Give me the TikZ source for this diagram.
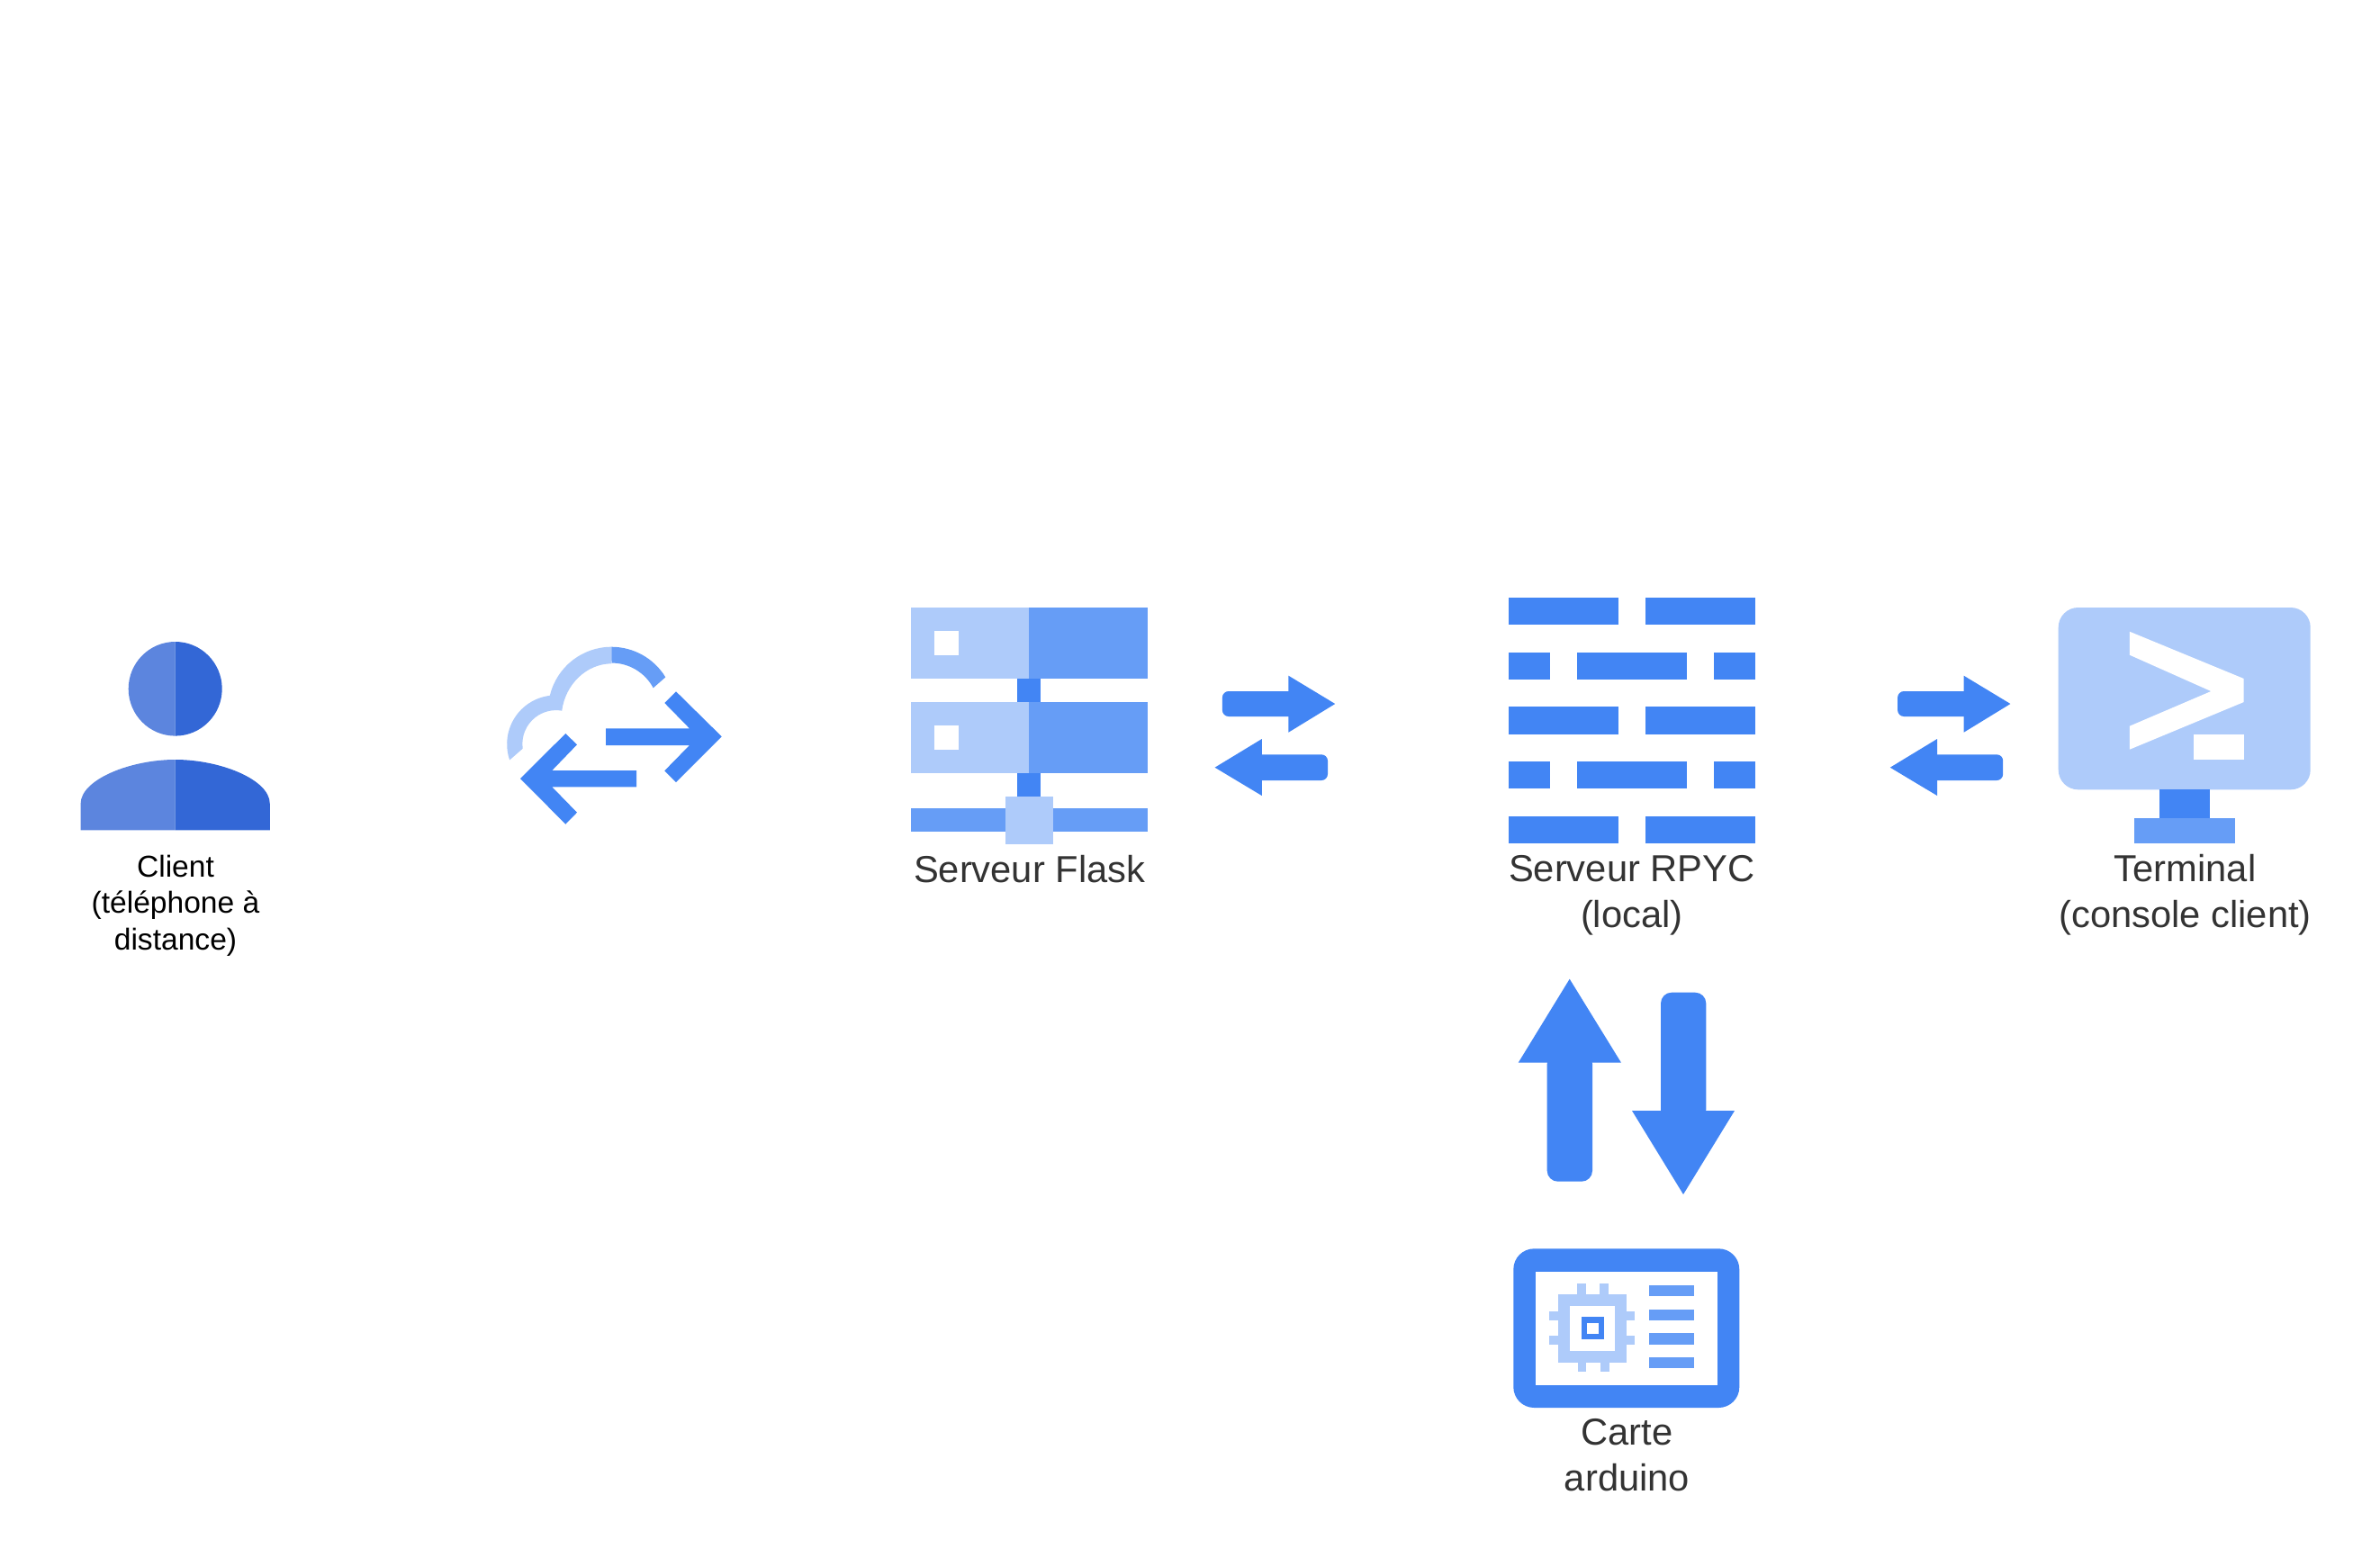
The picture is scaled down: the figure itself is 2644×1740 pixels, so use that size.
\documentclass[tikz,border=0pt]{standalone}
\usepackage{fontspec}
\setmainfont{Liberation Sans}
\definecolor{gLight}{HTML}{AECBFA}
\definecolor{gMid}{HTML}{669DF6}
\definecolor{gDark}{HTML}{4285F4}
\definecolor{pLeft}{HTML}{5C85DE}
\definecolor{pRight}{HTML}{3367D6}
\definecolor{labelgray}{HTML}{333333}
\tikzset{
  lt/.style={fill=gLight},
  md/.style={fill=gMid},
  dk/.style={fill=gDark},
  wh/.style={fill=white},
  biglabel/.style={anchor=base,align=center,inner sep=0pt,text=labelgray,font=\fontsize{41.7}{50.4}\selectfont},
  smalllabel/.style={anchor=base,align=center,inner sep=0pt,text=black,font=\fontsize{33.6}{40.3}\selectfont},
  pics/swap/.style={code={
    \fill[dk,rounded corners=7pt] (90,18) -- (0,18) -- (0,46) -- (90,46) -- cycle;
    \fill[dk] (73.5,0.7) -- (125.3,32) -- (73.5,63.7) -- cycle;
    \fill[dk,rounded corners=7pt] (30,88.3) -- (117.1,88.3) -- (117.1,117) -- (30,117) -- cycle;
    \fill[dk] (43.9,71) -- (-8.3,102.7) -- (43.9,134) -- cycle;
  }}
}
\begin{document}
\begin{tikzpicture}[x=1pt,y=-1pt]
\useasboundingbox (0,0) rectangle (2644,1740);
\fill[white] (0,0) rectangle (2644,1740);

% --- Client
\fill[pLeft] (194.7,713) .. controls (166,713) and (142.7,736.4) .. (142.7,765.3)
  .. controls (142.7,794.2) and (166,817.6) .. (194.7,817.6) -- cycle;
\fill[pRight] (194.7,713) .. controls (223.4,713) and (246.7,736.4) .. (246.7,765.3)
  .. controls (246.7,794.2) and (223.4,817.6) .. (194.7,817.6) -- cycle;
\fill[pLeft] (194.7,844) .. controls (145,844) and (89.6,866) .. (89.6,893)
  -- (89.6,922.3) -- (194.7,922.3) -- cycle;
\fill[pRight] (194.7,844) .. controls (244.5,844) and (299.8,866) .. (299.8,893)
  -- (299.8,922.3) -- (194.7,922.3) -- cycle;
\node[smalllabel] (client) at (195,1055) {Client\\(téléphone à\\distance)};

% --- Cloud
\fill[lt] (679.3,718.7) arc[start angle=90,end angle=166.7,radius=70.3pt]
  arc[start angle=97,end angle=199,radius=54.3pt]
  -- (580.7,831.7)
  arc[start angle=188,end angle=80,radius=37.4pt]
  .. controls (628,760) and (652,737.3) .. (679.3,737.3) -- cycle;
\fill[md] (679.3,718.7) arc[start angle=90,end angle=31.4,radius=70.3pt]
  -- (725.7,764.3) arc[start angle=28,end angle=90,radius=52.3pt] -- cycle;
\fill[dk] (673,809.3) -- (766,809.3) -- (738.3,781) -- (751,768.3) -- (801.7,818.3)
  -- (751,869) -- (738.3,856.3) -- (766,828) -- (673,828) -- cycle;
\fill[dk] (707,856) -- (613.3,856) -- (641,827.3) -- (628.3,815) -- (578,865)
  -- (628.3,915.7) -- (641,902.7) -- (613.3,874.3) -- (707,874.3) -- cycle;

% --- Serveur Flask
\fill[lt] (1012.1,675) rectangle (1143.2,754);
\fill[md] (1143.2,675) rectangle (1274.6,754);
\fill[lt] (1012.1,780) rectangle (1143.2,859);
\fill[md] (1143.2,780) rectangle (1274.6,859);
\fill[dk] (1130,754) rectangle (1156.4,780);
\fill[dk] (1130,859) rectangle (1156.4,885);
\fill[md] (1012.1,898) rectangle (1274.6,924.3);
\fill[lt] (1117.1,885) rectangle (1169.6,937.7);
\fill[wh] (1037.9,701) rectangle (1064.6,727.7);
\fill[wh] (1037.9,806) rectangle (1064.6,832.7);
\node[biglabel] (flask) at (1143.6,980) {Serveur Flask};

% --- Exchange arrows
\pic at (1357.9,750) {swap};
\pic at (2108.1,750) {swap};

% --- Serveur RPYC
\foreach \ya/\yb in {664/694,785.3/816,907/937.3}{
  \fill[dk] (1675.7,\ya) rectangle (1797.5,\yb);
  \fill[dk] (1827.5,\ya) rectangle (1950,\yb);
}
\foreach \ya/\yb in {724.7/755,846/876.3}{
  \fill[dk] (1675.7,\ya) rectangle (1722.3,\yb);
  \fill[dk] (1752.2,\ya) rectangle (1874,\yb);
  \fill[dk] (1904,\ya) rectangle (1950,\yb);
}
\node[biglabel] (rpyc) at (1812.8,1030) {Serveur RPYC\\(local)};

% --- Terminal
\fill[lt,rounded corners=22pt] (2286.7,675) rectangle (2566.7,877.3);
\fill[dk] (2398.9,877.3) rectangle (2455,909);
\fill[md] (2370.9,909) rectangle (2483.1,937.3);
\fill[wh] (2365.8,701.7) -- (2492.7,754) -- (2492.7,780) -- (2365.8,832.7)
  -- (2365.8,806.7) -- (2456.3,768) -- (2365.8,727.7) -- cycle;
\fill[wh] (2436.6,815.7) rectangle (2492.7,843.7);
\node[biglabel] (term) at (2427.6,1030) {Terminal\\(console client)};

% --- Vertical arrows
\fill[dk,rounded corners=12pt] (1718.7,1170) -- (1718.7,1312.7) -- (1769,1312.7) -- (1769,1170) -- cycle;
\fill[dk] (1743.7,1087.7) -- (1801,1180.7) -- (1686.7,1180.7) -- cycle;
\fill[dk,rounded corners=12pt] (1845,1245) -- (1845,1102.7) -- (1895.3,1102.7) -- (1895.3,1245) -- cycle;
\fill[dk] (1870,1327) -- (1927,1234) -- (1813,1234) -- cycle;

% --- Carte arduino
\fill[dk,rounded corners=23pt] (1681.3,1387.3) rectangle (1932.3,1564);
\fill[wh] (1706.3,1413) rectangle (1907.7,1539);
\fill[lt] (1731,1437.7) rectangle (1807,1513.7);
\fill[wh] (1744,1450.7) rectangle (1794.3,1501);
\fill[dk] (1757,1463.3) rectangle (1782,1488.3);
\fill[wh] (1763.3,1470) rectangle (1775.7,1482.3);
\fill[lt] (1752,1426) rectangle (1761.7,1437.7);
\fill[lt] (1777,1426) rectangle (1787,1437.7);
\fill[lt] (1752.7,1513.7) rectangle (1762.3,1523.7);
\fill[lt] (1778,1513.7) rectangle (1788,1523.7);
\fill[lt] (1721.3,1457.3) rectangle (1731,1467.3);
\fill[lt] (1721.3,1484) rectangle (1731,1494);
\fill[lt] (1807,1457.3) rectangle (1816.3,1467.3);
\fill[lt] (1807,1484) rectangle (1816.3,1494);
\fill[md] (1832,1428) rectangle (1882,1440);
\fill[md] (1832,1455) rectangle (1882,1467);
\fill[md] (1832,1481) rectangle (1882,1494);
\fill[md] (1832,1508) rectangle (1882,1520);
\node[biglabel] (carte) at (1807.5,1656) {Carte\\arduino};
\end{tikzpicture}
\end{document}
